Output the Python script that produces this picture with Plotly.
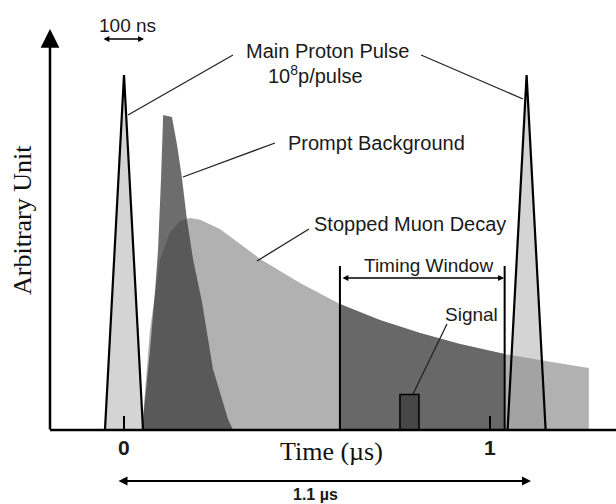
import plotly.graph_objects as go

# ---------------- data (time in microseconds, amplitude in arbitrary units) -------------
pulse_times = [0.0, 1.1]          # main proton pulses
pulse_height = 1.0
pulse_halfwidth = 0.052

prompt_t = [0.049, 0.071, 0.085, 0.093, 0.101, 0.107, 0.131, 0.145, 0.158, 0.172,
            0.189, 0.213, 0.243, 0.284, 0.298]
prompt_y = [0.0, 0.225, 0.394, 0.507, 0.704, 0.887, 0.882, 0.803, 0.713, 0.592,
            0.479, 0.361, 0.172, 0.031, 0.0]

muon_t = [0.049, 0.071, 0.098, 0.126, 0.153, 0.180, 0.208, 0.262, 0.372, 0.481,
          0.59, 0.699, 0.809, 0.918, 1.04, 1.164, 1.27, 1.27]
muon_y = [0.0, 0.282, 0.479, 0.558, 0.589, 0.597, 0.592, 0.566, 0.482, 0.414,
          0.355, 0.310, 0.273, 0.242, 0.214, 0.192, 0.175, 0.0]

window = [0.59, 1.04]             # timing window
signal_time = 0.78
signal_width = 0.052
signal_height = 0.10

tick_vals = [0, 1]
tick_text = ["0", "1"]

# ---------------- layout helpers (pixel -> data) ----------------------------------------
W, H = 616, 504
X0, PX_T = 124, 366
Y0, PX_Y = 430, 355


def T(px):
    return (px - X0) / PX_T


def Y(py):
    return (Y0 - py) / PX_Y


SANS = "Liberation Sans, Arial, sans-serif"
SERIF = "Liberation Serif, Times New Roman, serif"

fig = go.Figure()

# pulse fills
for pt in pulse_times:
    fig.add_trace(go.Scatter(
        x=[pt - pulse_halfwidth, pt, pt + pulse_halfwidth],
        y=[0, pulse_height, 0], mode="none", fill="toself",
        fillcolor="#d4d4d4", hoverinfo="skip"))

# stopped muon decay
fig.add_trace(go.Scatter(x=muon_t, y=muon_y, mode="none", fill="toself",
                         fillcolor="rgba(140,140,140,0.68)", hoverinfo="skip"))

# timing window region (darker part of muon decay)
w_t = [t for t in muon_t if window[0] <= t <= window[1]]
w_y = [y for t, y in zip(muon_t, muon_y) if window[0] <= t <= window[1]]
fig.add_trace(go.Scatter(x=[window[0]] + w_t + [window[1]], y=[0] + w_y + [0],
                         mode="none", fill="toself", fillcolor="#686868",
                         hoverinfo="skip"))

# prompt background
fig.add_trace(go.Scatter(x=prompt_t, y=prompt_y, mode="none", fill="toself",
                         fillcolor="rgba(60,60,60,0.75)", hoverinfo="skip"))

# signal
s0, s1 = signal_time - signal_width / 2, signal_time + signal_width / 2
fig.add_trace(go.Scatter(x=[s0, s0, s1, s1, s0], y=[0, signal_height, signal_height, 0, 0],
                         mode="lines", fill="toself", fillcolor="#474747",
                         line=dict(color="black", width=1.5), hoverinfo="skip"))

# pulse outlines
for pt in pulse_times:
    fig.add_trace(go.Scatter(
        x=[pt - pulse_halfwidth, pt, pt + pulse_halfwidth],
        y=[0, pulse_height, 0], mode="lines",
        line=dict(color="black", width=2.2), hoverinfo="skip"))

shapes = []
# baseline (time axis)
shapes.append(dict(type="line", xref="x", yref="y", x0=T(50), x1=T(616), y0=0, y1=0,
                   line=dict(color="black", width=2.5)))
# ticks
for tv in tick_vals:
    shapes.append(dict(type="line", xref="x", yref="y", x0=tv, x1=tv, y0=0, y1=Y(416),
                       line=dict(color="black", width=2)))
# timing window bounds
for wv in window:
    shapes.append(dict(type="line", xref="x", yref="y", x0=wv, x1=wv, y0=0, y1=Y(266),
                       line=dict(color="black", width=2)))
# pointer lines
for (xa, ya, xb, yb) in [(233, 55, 128, 115), (421, 55, 523, 99),
                         (275, 143, 183, 177), (309, 229, 257, 261),
                         (447, 324, 413, 394)]:
    shapes.append(dict(type="line", xref="x", yref="y", x0=T(xa), y0=Y(ya), x1=T(xb), y1=Y(yb),
                       line=dict(color="#222222", width=1.3)))

ann = []


def text(s, px, py, size=19, family=SANS, color="#1a1a1a", **kw):
    ann.append(dict(text=s, x=T(px), y=Y(py), xref="x", yref="y", showarrow=False,
                    font=dict(family=family, size=size, color=color),
                    xanchor="center", yanchor="middle", **kw))


def arrow(px_head, py_head, px_tail, py_tail, width=1.5, head=2, size=1.0, side="end"):
    ann.append(dict(text="", x=T(px_head), y=Y(py_head), ax=T(px_tail), ay=Y(py_tail),
                    xref="x", yref="y", axref="x", ayref="y", showarrow=True,
                    arrowhead=head, arrowsize=size, arrowwidth=width, arrowcolor="black",
                    arrowside=side, startarrowhead=head, startarrowsize=size,
                    font=dict(size=10)))


# y axis arrow
arrow(50, 29, 50, 431, width=2.5, head=2, size=1.5)
# 100 ns arrow
arrow(144, 39, 102, 39, width=1.3, head=2, size=0.9, side="end+start")
# timing window arrow
arrow(504, 278, 341, 278, width=1.3, head=2, size=0.9, side="end+start")
# 1.1 us arrow
arrow(531, 481, 117, 481, width=2, head=2, size=0.9, side="end+start")

text("100 ns", 127, 25, size=19)
text("Main Proton Pulse", 327, 51, size=20)
text("10<sup>8</sup>p/pulse", 315, 74, size=20)
text("Prompt Background", 376, 143, size=20)
text("Stopped Muon Decay", 410, 224, size=20)
text("Timing Window", 428, 265, size=19)
text("Signal", 471, 314, size=19)
for tv, tt in zip(tick_vals, tick_text):
    ann.append(dict(text="<b>" + tt + "</b>", x=tv, y=Y(447), xref="x", yref="y",
                    showarrow=False, font=dict(family=SANS, size=21, color="#1a1a1a"),
                    xanchor="center", yanchor="middle"))
text("Time (µs)", 331, 451, size=26, family=SERIF, color="#111111")
text("<b>1.1 µs</b>", 315, 494, size=16)
text("Arbitrary Unit", 22, 220, size=26, family=SERIF, color="#111111", textangle=-90)

fig.update_layout(
    width=W, height=H, margin=dict(l=0, r=0, t=0, b=0),
    paper_bgcolor="white", plot_bgcolor="white", showlegend=False,
    xaxis=dict(range=[T(0), T(W)], visible=False, fixedrange=True),
    yaxis=dict(range=[Y(H), Y(0)], visible=False, fixedrange=True),
    shapes=shapes, annotations=ann, hovermode=False,
)

fig.write_html("out.html")
